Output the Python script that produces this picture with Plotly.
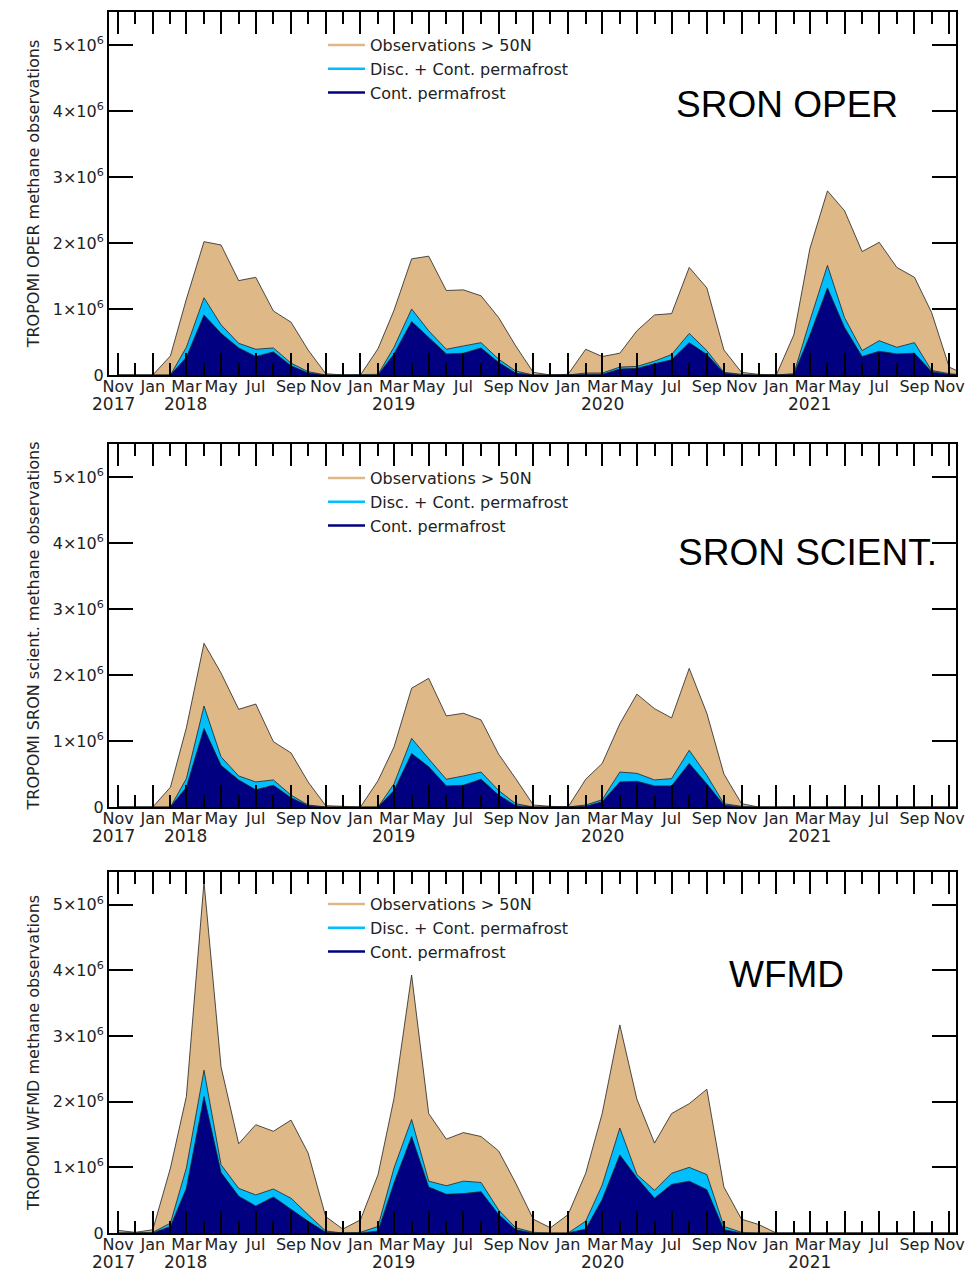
import pandas as pd
import plotly.graph_objects as go

# Monthly time axis: Nov 2017 .. Dec 2021
months = pd.date_range("2017-11-01", "2021-12-01", freq="MS")

# Values in millions of observations
# --- SRON OPER ---
oper_total_M = [0, 0, 0, 0.29, 1.15, 2.02, 1.97, 1.43, 1.48, 0.97, 0.80, 0.38, 0.02, 0.0,
                0.0, 0.40, 0.98, 1.76, 1.80, 1.28, 1.29, 1.20, 0.87, 0.44, 0.04, 0.0,
                0.01, 0.39, 0.28, 0.33, 0.67, 0.91, 0.93, 1.63, 1.32, 0.38, 0.04, 0.01,
                0.0, 0.61, 1.91, 2.79, 2.49, 1.87, 2.01, 1.63, 1.48, 0.95, 0.12, 0.0]
oper_disc_M = [0, 0, 0, 0.0, 0.42, 1.17, 0.76, 0.48, 0.39, 0.41, 0.18, 0.05, 0.0, 0,
               0, 0.01, 0.42, 1.00, 0.67, 0.39, 0.44, 0.49, 0.24, 0.06, 0, 0,
               0, 0.03, 0.03, 0.12, 0.13, 0.21, 0.31, 0.63, 0.37, 0.04, 0.01, 0,
               0, 0.02, 0.82, 1.66, 0.87, 0.37, 0.52, 0.42, 0.49, 0.07, 0.02, 0]
oper_cont_M = [0, 0, 0, 0.0, 0.27, 0.91, 0.63, 0.41, 0.28, 0.35, 0.14, 0.03, 0, 0,
               0, 0.0, 0.32, 0.81, 0.57, 0.32, 0.33, 0.41, 0.19, 0.03, 0, 0,
               0, 0.01, 0.01, 0.09, 0.10, 0.17, 0.23, 0.49, 0.31, 0.03, 0, 0,
               0, 0.01, 0.60, 1.32, 0.72, 0.28, 0.36, 0.32, 0.33, 0.05, 0.01, 0]
# --- SRON SCIENT. ---
sci_total_M = [0, 0, 0, 0.30, 1.20, 2.48, 2.03, 1.48, 1.56, 0.99, 0.82, 0.38, 0.02, 0.01,
               0, 0.40, 0.91, 1.80, 1.95, 1.38, 1.42, 1.32, 0.80, 0.43, 0.03, 0.01,
               0, 0.42, 0.66, 1.26, 1.71, 1.49, 1.35, 2.10, 1.42, 0.50, 0.05, 0,
               0, 0, 0, 0, 0, 0, 0, 0, 0, 0, 0, 0]
sci_disc_M = [0, 0, 0, 0, 0.43, 1.53, 0.76, 0.47, 0.38, 0.41, 0.18, 0.03, 0, 0,
              0, 0, 0.35, 1.04, 0.73, 0.42, 0.47, 0.53, 0.25, 0.05, 0, 0,
              0, 0.03, 0.11, 0.53, 0.51, 0.41, 0.43, 0.86, 0.48, 0.05, 0.01, 0,
              0, 0, 0, 0, 0, 0, 0, 0, 0, 0, 0, 0]
sci_cont_M = [0, 0, 0, 0, 0.30, 1.19, 0.63, 0.41, 0.26, 0.33, 0.14, 0.02, 0, 0,
              0, 0, 0.25, 0.81, 0.61, 0.32, 0.33, 0.42, 0.18, 0.02, 0, 0,
              0, 0.01, 0.08, 0.38, 0.39, 0.32, 0.32, 0.66, 0.35, 0.03, 0, 0,
              0, 0, 0, 0, 0, 0, 0, 0, 0, 0, 0, 0]
# --- WFMD ---
wfmd_total_M = [0.04, 0.01, 0.05, 0.99, 2.08, 5.35, 2.53, 1.36, 1.65, 1.55, 1.72, 1.22, 0.25, 0.06,
                0.20, 0.89, 2.05, 3.93, 1.82, 1.43, 1.53, 1.47, 1.25, 0.76, 0.21, 0.08,
                0.28, 0.91, 1.82, 3.17, 2.04, 1.37, 1.82, 1.97, 2.19, 0.70, 0.21, 0.13,
                0, 0, 0, 0, 0, 0, 0, 0, 0, 0, 0, 0]
wfmd_disc_M = [0, 0, 0.01, 0.15, 0.99, 2.48, 1.04, 0.68, 0.58, 0.67, 0.53, 0.28, 0.03, 0,
               0.01, 0.10, 0.99, 1.73, 0.79, 0.72, 0.79, 0.77, 0.35, 0.08, 0.01, 0,
               0, 0.18, 0.73, 1.60, 0.89, 0.65, 0.91, 1.00, 0.89, 0.10, 0.01, 0,
               0, 0, 0, 0, 0, 0, 0, 0, 0, 0, 0, 0]
wfmd_cont_M = [0, 0, 0, 0.10, 0.68, 2.08, 0.92, 0.56, 0.41, 0.55, 0.36, 0.18, 0.01, 0,
               0, 0.03, 0.76, 1.47, 0.70, 0.59, 0.60, 0.63, 0.28, 0.05, 0, 0,
               0, 0.06, 0.51, 1.19, 0.84, 0.53, 0.74, 0.79, 0.66, 0.05, 0, 0,
               0, 0, 0, 0, 0, 0, 0, 0, 0, 0, 0, 0]

series_names = ["Observations > 50N", "Disc. + Cont. permafrost", "Cont. permafrost"]
colors = ["#DEB887", "#00BFFF", "#000080"]
panel_labels = ["SRON OPER", "SRON SCIENT.", "WFMD"]
y_titles = ["TROPOMI OPER methane observations",
            "TROPOMI SRON scient. methane observations",
            "TROPOMI WFMD methane observations"]

panels = [
    (oper_total_M, oper_disc_M, oper_cont_M),
    (sci_total_M, sci_disc_M, sci_cont_M),
    (wfmd_total_M, wfmd_disc_M, wfmd_cont_M),
]

# Tick definitions
major_ticks = pd.date_range("2017-11-01", "2021-11-01", freq="2MS")
major_text = [d.strftime("%b") for d in major_ticks]
minor_ticks = pd.date_range("2017-12-01", "2021-10-01", freq="2MS")
year_ticks = ["2017-11-01", "2018-03-01", "2019-03-01", "2020-03-01", "2021-03-01"]
year_text = ["2017", "2018", "2019", "2020", "2021"]
year_xshift = [-5, -1, 0, 0, 0]

y_vals = [0, 1e6, 2e6, 3e6, 4e6, 5e6]
y_text = ["0"] + [f"{k}×10<sup>6</sup>" for k in range(1, 6)]

W, H = 968, 1272
ml, mr, mt, mb = 109, 12, 12, 39
ph = H - mt - mb
# panel pixel extents (top, bottom)
px_rows = [(12, 375), (444, 807), (872, 1233)]
def fy(p):
    return (H - mb - p) / ph

fig = go.Figure()
FONT = "DejaVu Sans"

for k, (tot, disc, cont) in enumerate(panels):
    xa = "x" if k == 0 else f"x{k+1}"
    ya = "y" if k == 0 else f"y{k+1}"
    lg = "legend" if k == 0 else f"legend{k+1}"
    for vals, c in zip((tot, disc, cont), colors):
        fig.add_trace(go.Scatter(
            x=months, y=[v * 1e6 for v in vals], mode="lines",
            line=dict(color="#222222", width=0.8), fill="tozeroy",
            fillcolor=c, showlegend=False, xaxis=xa, yaxis=ya, hoverinfo="skip"))
    for name, c in zip(series_names, colors):
        fig.add_trace(go.Scatter(
            x=[None], y=[None], mode="lines", line=dict(color=c, width=2.5),
            name=name, showlegend=True, legend=lg, xaxis=xa, yaxis=ya))

axis_common = dict(showline=True, linecolor="black", linewidth=2, mirror="allticks",
                   ticks="inside", tickcolor="black", tickwidth=2, showgrid=False,
                   zeroline=False, automargin=False,
                   tickfont=dict(family=FONT, size=16, color="#222"))

layout = dict(width=W, height=H, margin=dict(l=ml, r=mr, t=mt, b=mb),
              paper_bgcolor="white", plot_bgcolor="white",
              font=dict(family=FONT, size=16, color="black"), annotations=[])

label_pos = [(0.80, 0.744), (0.825, 0.70), (0.80, 0.715)]
legend_tops = [28, 461, 887]

for k in range(3):
    top, bot = px_rows[k]
    sfx = "" if k == 0 else str(k + 1)
    layout[f"xaxis{sfx}"] = dict(
        axis_common, type="date", range=["2017-10-16", "2021-11-13"],
        domain=[0, 1], anchor=f"y{sfx}",
        tickmode="array", tickvals=list(major_ticks), ticktext=major_text, ticklen=22,
        ticklabelstandoff=-4,
        minor=dict(tickmode="array", tickvals=list(minor_ticks), ticklen=12,
                   tickwidth=2, tickcolor="black", ticks="inside", showgrid=False),
    )
    layout[f"yaxis{sfx}"] = dict(
        axis_common, range=[0, 5.5e6], domain=[fy(bot), fy(top)], anchor=f"x{sfx}",
        tickmode="array", tickvals=y_vals, ticktext=y_text, ticklen=24,
        title=dict(text=y_titles[k], font=dict(family=FONT, size=16, color="#222"),
                   standoff=9),
    )
    lgname = "legend" if k == 0 else f"legend{k+1}"
    layout[lgname] = dict(x=(323 - ml) / (W - ml - mr), xanchor="left",
                          y=fy(legend_tops[k]), yanchor="top",
                          bgcolor="rgba(0,0,0,0)", borderwidth=0, itemwidth=37,
                          font=dict(family=FONT, size=16, color="#222"),
                          tracegroupgap=0)
    lx, ly = label_pos[k]
    layout["annotations"].append(dict(
        text=panel_labels[k], xref=f"x{sfx} domain", yref=f"y{sfx} domain",
        x=lx, y=ly, showarrow=False, xanchor="center", yanchor="middle",
        font=dict(family="Liberation Sans", size=37, color="black")))
    for yt, ytx, xs in zip(year_ticks, year_text, year_xshift):
        layout["annotations"].append(dict(
            text=ytx, xref=f"x{sfx}", yref=f"y{sfx} domain", x=yt, y=0,
            yshift=-29, xshift=xs, showarrow=False, xanchor="center", yanchor="middle",
            font=dict(family=FONT, size=17, color="#222")))

fig.update_layout(**layout)
fig.write_html("out.html")
